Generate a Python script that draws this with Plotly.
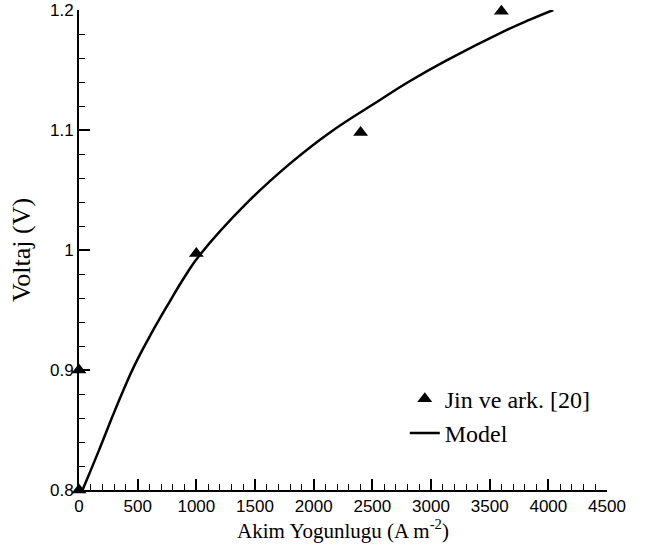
import plotly.graph_objects as go

# Experimental data (Jin ve ark. [20])
exp_i = [0, 0, 1000, 2400, 3600]
exp_v = [0.8, 0.9, 0.997, 1.098, 1.199]

# Model curve
mod_i = [30, 170, 284, 369, 469, 597, 767, 909, 1031, 1429, 1798, 2139, 2565, 2807, 3133, 3616, 3843, 4042]
mod_v = [0.8, 0.833, 0.861, 0.881, 0.903, 0.927, 0.956, 0.979, 0.996, 1.039, 1.072, 1.098, 1.125,
         1.140, 1.158, 1.182, 1.192, 1.2]

x_ticks = [0, 500, 1000, 1500, 2000, 2500, 3000, 3500, 4000, 4500]
y_ticks = [0.8, 0.9, 1.0, 1.1, 1.2]
y_ticklabels = ["0.8", "0.9", "1", "1.1", "1.2"]

SERIF = "Liberation Serif"
SANS = "Liberation Sans"

fig = go.Figure()
fig.add_trace(go.Scatter(
    x=exp_i, y=exp_v, mode="markers", name="Jin ve ark. [20]",
    marker=dict(symbol="triangle-up", size=13, color="black"),
    cliponaxis=False, legendgroup="a"))
fig.add_trace(go.Scatter(
    x=mod_i, y=mod_v, mode="lines", name="Model",
    line=dict(color="black", width=2.5, shape="spline", smoothing=1.3),
    legendgroup="b"))

tickfont = dict(family=SANS, size=17, color="black")

fig.update_layout(
    width=652, height=549,
    margin=dict(l=79, r=45, t=10, b=59),
    plot_bgcolor="white", paper_bgcolor="white",
    showlegend=True,
    legend=dict(x=0.617, y=0.236, xanchor="left", yanchor="top",
                font=dict(family=SERIF, size=24, color="black"),
                bgcolor="rgba(0,0,0,0)", traceorder="grouped", tracegroupgap=0),
    xaxis=dict(range=[0, 4500], tickvals=x_ticks, ticks="inside", ticklen=11, tickwidth=2,
               tickcolor="black", showline=True, linecolor="black", linewidth=2,
               showgrid=False, zeroline=False, tickfont=tickfont, automargin=False,
               minor=dict(dtick=100, ticks="inside", ticklen=6, tickwidth=1, tickcolor="black", showgrid=False),
               title=dict(text="Akim Yogunlugu (A m<sup>-2</sup>)",
                          font=dict(family=SERIF, size=21, color="black"), standoff=6)),
    yaxis=dict(range=[0.8, 1.2], tickvals=y_ticks, ticktext=y_ticklabels, ticks="inside", ticklen=11,
               tickwidth=2, tickcolor="black", showline=True, linecolor="black", linewidth=2,
               showgrid=False, zeroline=False, tickfont=tickfont, automargin=False,
               minor=dict(dtick=0.02, ticks="inside", ticklen=6, tickwidth=1, tickcolor="black", showgrid=False),
               title=dict(text="Voltaj (V)", font=dict(family=SERIF, size=26, color="black"), standoff=12)),
)

fig.write_html("out.html")
